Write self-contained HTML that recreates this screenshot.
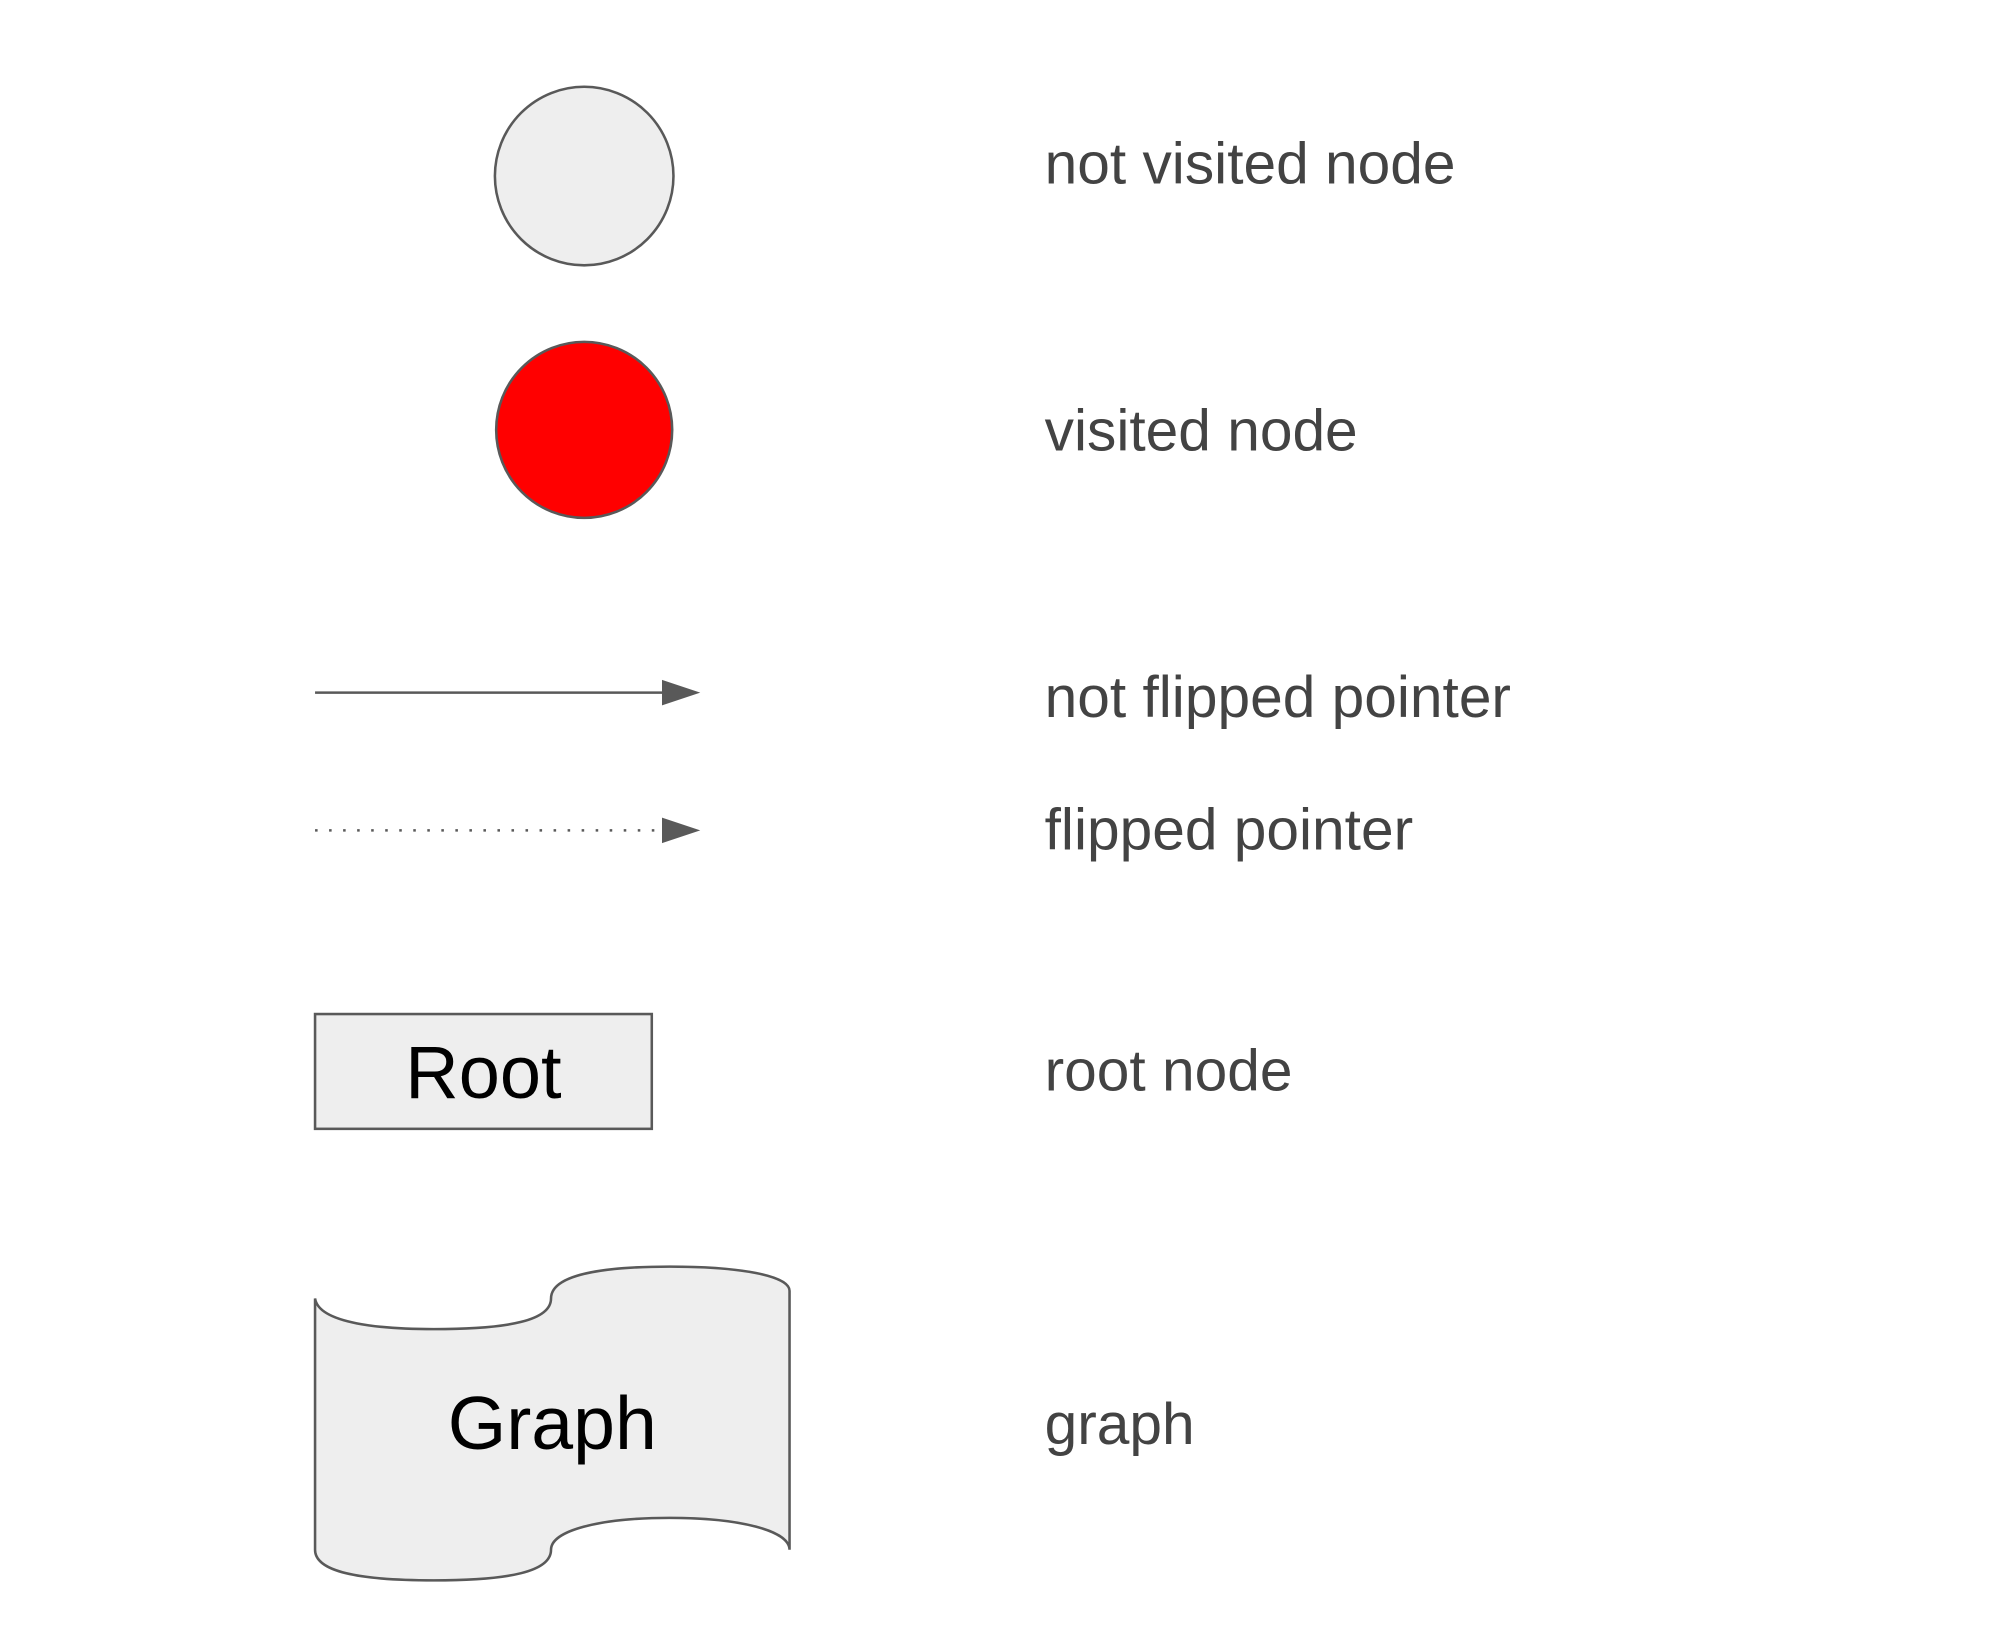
<!DOCTYPE html>
<html><head><meta charset="utf-8"><style>html,body{margin:0;padding:0;background:#fff;}svg{display:block}</style></head>
<body>
<svg width="2000" height="1636" viewBox="0 0 1568 1282.6" xmlns="http://www.w3.org/2000/svg">
<circle cx="458" cy="138" r="70" fill="#eeeeee" stroke="#595959" stroke-width="2"/>
<circle cx="458" cy="337" r="69" fill="#ff0000" stroke="#595959" stroke-width="2"/>
<line x1="247" y1="543" x2="522" y2="543" stroke="#595959" stroke-width="2"/>
<polygon points="519,533 549,543 519,553" fill="#595959"/>
<line x1="247" y1="651" x2="522" y2="651" stroke="#595959" stroke-width="2" stroke-dasharray="2,9"/>
<polygon points="519,641 549,651 519,661" fill="#595959"/>
<rect x="247" y="795" width="264" height="90" fill="#eeeeee" stroke="#595959" stroke-width="2"/>
<text x="379" y="861" font-family="Liberation Sans, sans-serif" font-size="58" text-anchor="middle" fill="#000">Root</text>
<path d="M247,1018 C250,1038 300,1042 340,1042 C400,1042 432,1035 432,1018 C432,1000 470,993 525,993 C580,993 619,1000 619,1012 L619,1215 C619,1200 580,1190 525,1190 C470,1190 432,1200 432,1215 C432,1232 400,1239 340,1239 C280,1239 247,1232 247,1215 Z" fill="#eeeeee" stroke="#595959" stroke-width="2"/>
<text x="433" y="1136" font-family="Liberation Sans, sans-serif" font-size="59" text-anchor="middle" fill="#000">Graph</text>
<g font-family="Liberation Sans, sans-serif" font-size="46" fill="#434343">
<text x="819" y="144">not visited node</text>
<text x="819" y="353">visited node</text>
<text x="819" y="562">not flipped pointer</text>
<text x="819" y="666">flipped pointer</text>
<text x="819" y="855">root node</text>
<text x="819" y="1132">graph</text>
</g>
</svg>
</body></html>
